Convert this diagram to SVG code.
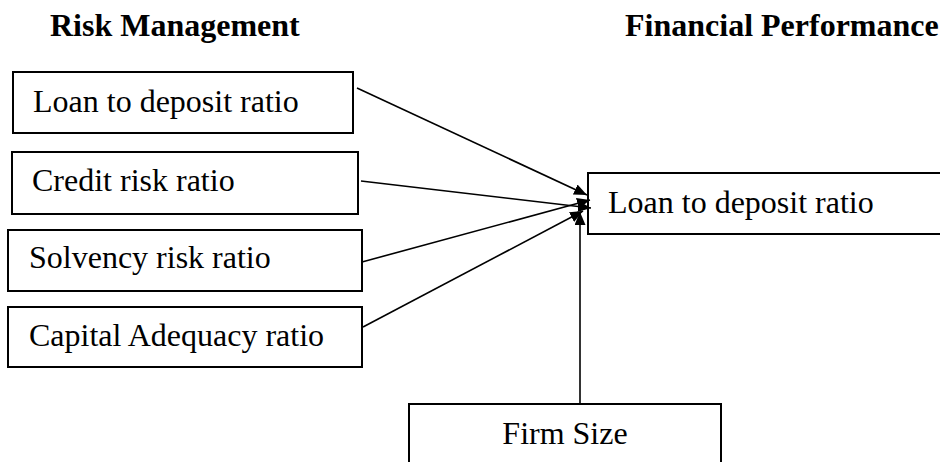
<svg xmlns="http://www.w3.org/2000/svg" width="940" height="462" viewBox="0 0 940 462">
<style>
.box{fill:#fff;stroke:#000;stroke-width:2}
.t{font-family:"Liberation Serif","Times New Roman",serif;font-size:32px;fill:#000}
.h{font-family:"Liberation Serif","Times New Roman",serif;font-size:32px;font-weight:bold;fill:#000}
.c{stroke:#000;stroke-width:1.6;fill:none;marker-end:url(#ah)}
</style>
<defs>
<marker id="ah" markerUnits="userSpaceOnUse" markerWidth="13" markerHeight="11" refX="13" refY="5.5" orient="auto">
<path d="M0,0 L13,5.5 L0,11 z" fill="#000"/>
</marker>
</defs>
<text class="h" x="50" y="36">Risk Management</text>
<text class="h" x="625" y="36">Financial Performance</text>
<g id="n1"><rect class="box" x="13" y="72" width="340" height="61"/><text class="t" x="33" y="112">Loan to deposit ratio</text></g>
<g id="n2"><rect class="box" x="12" y="152" width="346" height="62"/><text class="t" x="32" y="191">Credit risk ratio</text></g>
<g id="n3"><rect class="box" x="8" y="230" width="354" height="61"/><text class="t" x="29" y="268">Solvency risk ratio</text></g>
<g id="n4"><rect class="box" x="8" y="307" width="354" height="60"/><text class="t" x="29" y="346">Capital Adequacy ratio</text></g>
<g id="n5"><rect class="box" x="588" y="173" width="360" height="61"/><text class="t" x="608" y="213">Loan to deposit ratio</text></g>
<g id="n6"><rect class="box" x="409" y="404" width="312" height="70"/><text class="t" x="565" y="444" text-anchor="middle">Firm Size</text></g>
<g id="connectors">
<line class="c" x1="357" y1="88" x2="587" y2="195"/>
<line class="c" x1="361" y1="181" x2="591" y2="208"/>
<line class="c" x1="362" y1="262" x2="590" y2="200"/>
<line class="c" x1="363" y1="327" x2="583" y2="211"/>
<line class="c" x1="580" y1="404" x2="580" y2="212"/>
</g>
</svg>
